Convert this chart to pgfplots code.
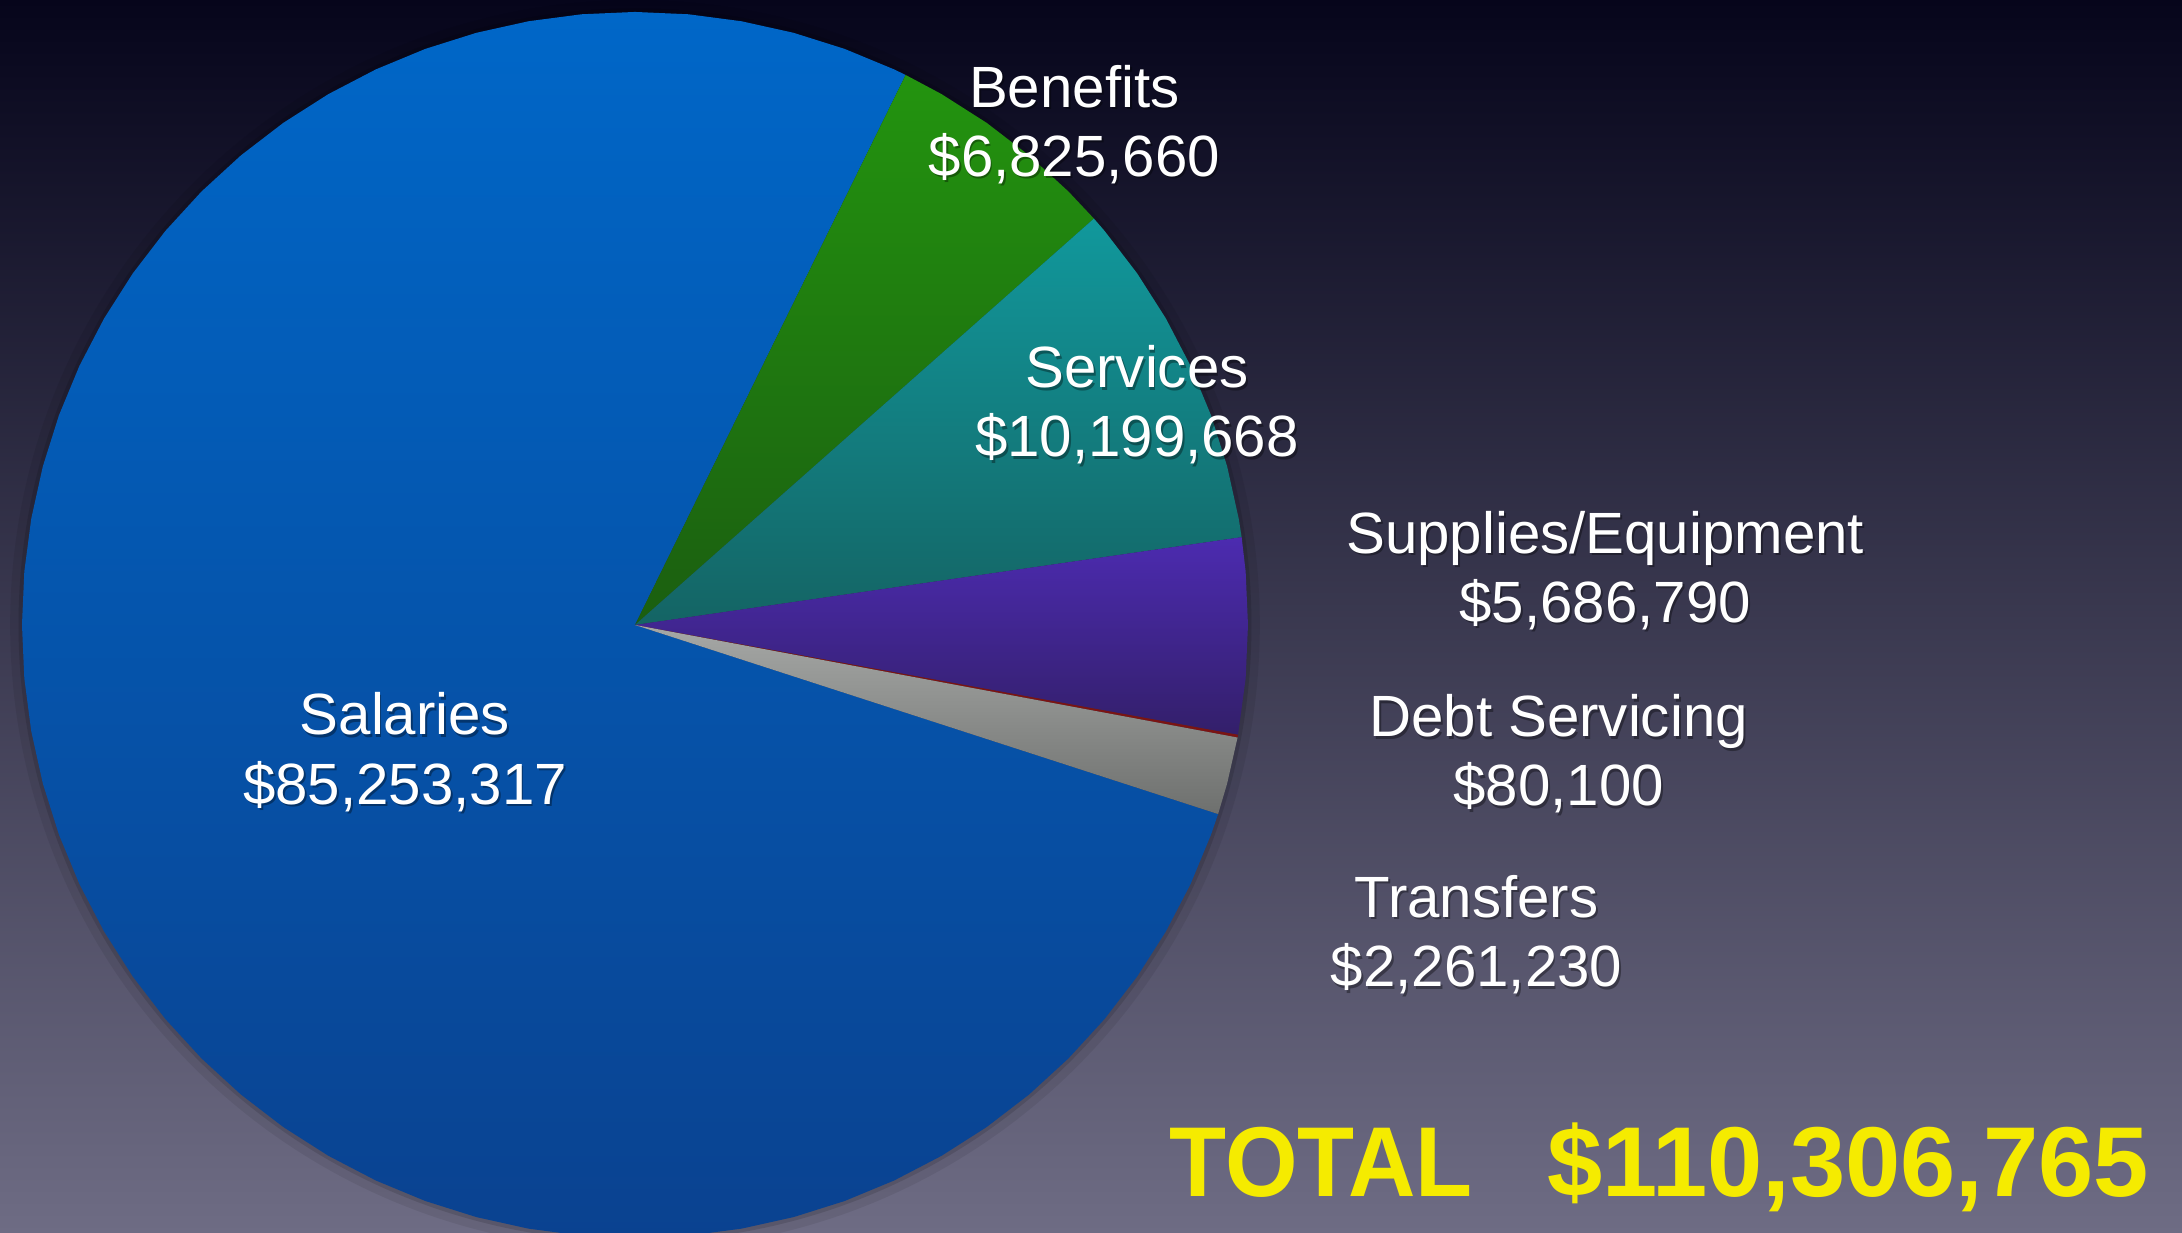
\documentclass[border=0pt]{standalone}
\usepackage{fontspec}
\setmainfont{Liberation Sans}
\usepackage{pgfplots}
\pgfplotsset{compat=1.18}

\definecolor{BgTop}{HTML}{06051B}
\definecolor{BgBot}{HTML}{6E6C84}
\definecolor{SalTop}{HTML}{0067C8}
\definecolor{SalBot}{HTML}{0A4290}
\definecolor{BenTop}{HTML}{23940F}
\definecolor{BenBot}{HTML}{1B5E10}
\definecolor{SerTop}{HTML}{11989C}
\definecolor{SerBot}{HTML}{146464}
\definecolor{SupTop}{HTML}{4C2BB0}
\definecolor{SupBot}{HTML}{331F6A}
\definecolor{TraTop}{HTML}{A6A8A6}
\definecolor{TraBot}{HTML}{6E706E}
\definecolor{DebtRed}{HTML}{7A1414}
\definecolor{TotYellow}{HTML}{F5EB00}

\newcommand\lbl{\fontsize{11.9}{14}\selectfont}
\newcommand\slabel[3]{%
  \node[anchor=base,font=\lbl,text=black,opacity=0.35] at ([shift={(0.4pt,-0.5pt)}]axis cs:#1,#2) {#3};
  \node[anchor=base,font=\lbl,text=white] at (axis cs:#1,#2) {#3};}

% budget 2182x1233, total $110,306,765
% Salaries 85253317, Benefits 6825660, Services 10199668,
% Supplies/Equipment 5686790, Debt Servicing 80100, Transfers 2261230
% wedges in polar (angle in degrees, radius), start at 63.8 deg, clockwise

\begin{document}
\begin{tikzpicture}
\begin{axis}[
  width=15.68cm, height=8.86cm, scale only axis,
  xmin=-456.3, xmax=1111.7, ymin=-436.9, ymax=449.1,
  hide axis, clip=true,
]
  \fill[top color=BgTop, bottom color=BgBot]
    (axis cs:-456.3,-436.9) rectangle (axis cs:1111.7,449.1);
  \fill[black, opacity=0.07] (axis cs:0,0) circle[radius=4.49cm];
  \fill[black, opacity=0.12] (axis cs:0,0) circle[radius=4.43cm];

  % Salaries
  \addplot[draw=none, top color=SalTop, bottom color=SalBot, data cs=polar] coordinates {
    (0,0) (63.8,440.5) (65,440.5) (70,440.5) (75,440.5) (80,440.5) (85,440.5)
    (90,440.5) (95,440.5) (100,440.5) (105,440.5) (110,440.5) (115,440.5)
    (120,440.5) (125,440.5) (130,440.5) (135,440.5) (140,440.5) (145,440.5)
    (150,440.5) (155,440.5) (160,440.5) (165,440.5) (170,440.5) (175,440.5)
    (180,440.5) (185,440.5) (190,440.5) (195,440.5) (200,440.5) (205,440.5)
    (210,440.5) (215,440.5) (220,440.5) (225,440.5) (230,440.5) (235,440.5)
    (240,440.5) (245,440.5) (250,440.5) (255,440.5) (260,440.5) (265,440.5)
    (270,440.5) (275,440.5) (280,440.5) (285,440.5) (290,440.5) (295,440.5)
    (300,440.5) (305,440.5) (310,440.5) (315,440.5) (320,440.5) (325,440.5)
    (330,440.5) (335,440.5) (340,440.5) (342.035,440.5) (0,0)
  } -- cycle;
  % Benefits
  \addplot[draw=none, top color=BenTop, bottom color=BenBot, data cs=polar] coordinates {
    (0,0) (41.524,440.5) (45,440.5) (50,440.5) (55,440.5) (60,440.5) (63.8,440.5) (0,0)
  } -- cycle;
  % Services
  \addplot[draw=none, top color=SerTop, bottom color=SerBot, data cs=polar] coordinates {
    (0,0) (8.236,440.5) (10,440.5) (15,440.5) (20,440.5) (25,440.5) (30,440.5)
    (35,440.5) (40,440.5) (41.524,440.5) (0,0)
  } -- cycle;
  % Supplies/Equipment
  \addplot[draw=none, top color=SupTop, bottom color=SupBot, data cs=polar] coordinates {
    (0,0) (-10.324,440.5) (-5,440.5) (0,440.5) (5,440.5) (8.236,440.5) (0,0)
  } -- cycle;
  % Debt Servicing
  \addplot[draw=none, fill=DebtRed, data cs=polar] coordinates {
    (0,0) (-10.585,440.5) (-10.324,440.5) (0,0)
  } -- cycle;
  % Transfers
  \addplot[draw=none, top color=TraTop, bottom color=TraBot, data cs=polar] coordinates {
    (0,0) (-17.965,440.5) (-15,440.5) (-10.585,440.5) (0,0)
  } -- cycle;

  \slabel{315.7}{372.1}{Benefits}
  \slabel{315.7}{322.6}{\$6,825,660}
  \slabel{360.7}{170.4}{Services}
  \slabel{360.7}{121.0}{\$10,199,668}
  \slabel{697.2}{51.5}{Supplies/Equipment}
  \slabel{697.2}{2.1}{\$5,686,790}
  \slabel{663.7}{-80.3}{Debt Servicing}
  \slabel{663.7}{-129.9}{\$80,100}
  \slabel{604.7}{-209.9}{Transfers}
  \slabel{604.7}{-259.9}{\$2,261,230}
  \slabel{-165.3}{-78.9}{Salaries}
  \slabel{-165.3}{-128.9}{\$85,253,317}

  \node[anchor=base west, inner sep=0pt, text=TotYellow, font=\fontsize{20.3}{24}\bfseries\selectfont]
    at (axis cs:383.7,-410.9) {\scalebox{0.94}[1]{TOTAL}};
  \node[anchor=base east, inner sep=0pt, text=TotYellow, font=\fontsize{20.3}{24}\bfseries\selectfont]
    at (axis cs:1088.7,-410.9) {\$110,306,765};
\end{axis}
\end{tikzpicture}
\end{document}
